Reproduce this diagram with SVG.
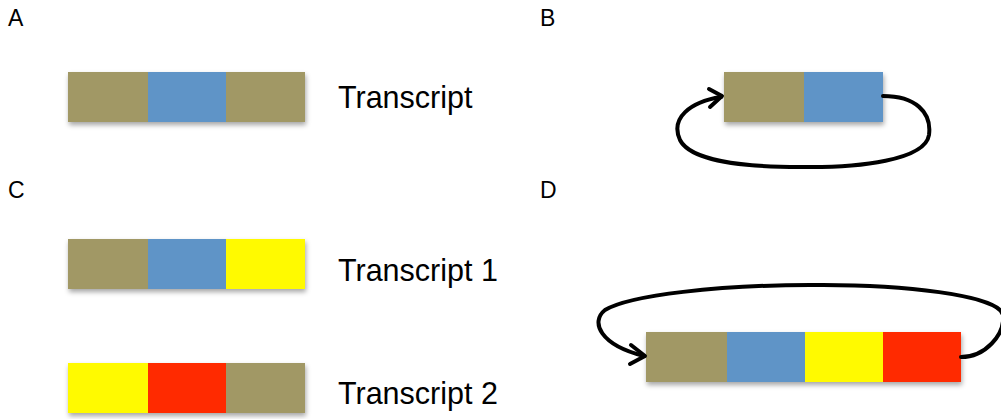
<svg xmlns="http://www.w3.org/2000/svg" width="1001" height="419" viewBox="0 0 1001 419">
<defs>
<filter id="sh" x="-10%" y="-20%" width="130%" height="160%">
<feDropShadow dx="1" dy="3" stdDeviation="2.5" flood-color="#000" flood-opacity="0.35"/>
</filter>
<style>
.o{fill:#A19865}.b{fill:#5F94C7}.y{fill:#FFFA00}.r{fill:#FF2A00}
.lbl{font-family:"Liberation Sans",Arial,sans-serif;font-size:23px;fill:#000}
.t{font-family:"Liberation Sans",Arial,sans-serif;font-size:30.5px;fill:#000}
.ln{fill:none;stroke:#000;stroke-width:4;stroke-linecap:round;stroke-linejoin:round}
</style>
</defs>
<rect width="1001" height="419" fill="#fff"/>
<text class="lbl" x="8" y="26">A</text>
<text class="lbl" x="540" y="26">B</text>
<text class="lbl" x="8" y="198">C</text>
<text class="lbl" x="540" y="198">D</text>

<g id="nodeA" filter="url(#sh)">
<rect class="o" x="68" y="72" width="81" height="50"/>
<rect class="b" x="148" y="72" width="79" height="50"/>
<rect class="o" x="226" y="72" width="79" height="50"/>
</g>
<text class="t" x="338" y="108">Transcript</text>

<g id="nodeB" filter="url(#sh)">
<rect class="o" x="724" y="72" width="81" height="50"/>
<rect class="b" x="804" y="72" width="79" height="50"/>
</g>

<g id="nodeC1" filter="url(#sh)">
<rect class="o" x="68" y="239" width="81" height="50"/>
<rect class="b" x="148" y="239" width="79" height="50"/>
<rect class="y" x="226" y="239" width="79" height="50"/>
</g>
<text class="t" x="338" y="281">Transcript 1</text>

<g id="nodeC2" filter="url(#sh)">
<rect class="y" x="68" y="363" width="81" height="50"/>
<rect class="r" x="148" y="363" width="79" height="50"/>
<rect class="o" x="226" y="363" width="79" height="50"/>
</g>
<text class="t" x="338" y="404">Transcript 2</text>

<g id="nodeD" filter="url(#sh)">
<rect class="o" x="646" y="332" width="82" height="50"/>
<rect class="b" x="727" y="332" width="79" height="50"/>
<rect class="y" x="805" y="332" width="79" height="50"/>
<rect class="r" x="883" y="332" width="78" height="50"/>
</g>

<g id="connectors">
<path class="ln" d="M883 96 C915 96 932 112 929 135 C925 160 860 168 800 167 C740 167 690 160 680 140 C670 118 690 102 721 97"/>
<path class="ln" d="M709 89 L722 96 L710 107"/>
<path class="ln" d="M961 357 C985 357 1005 335 1003 315 C1000 295 900 284 810 285 C720 285 630 295 605 310 C590 322 600 345 644 356"/>
<path class="ln" d="M631 345 L645 356 L630 364"/>
</g>
</svg>
